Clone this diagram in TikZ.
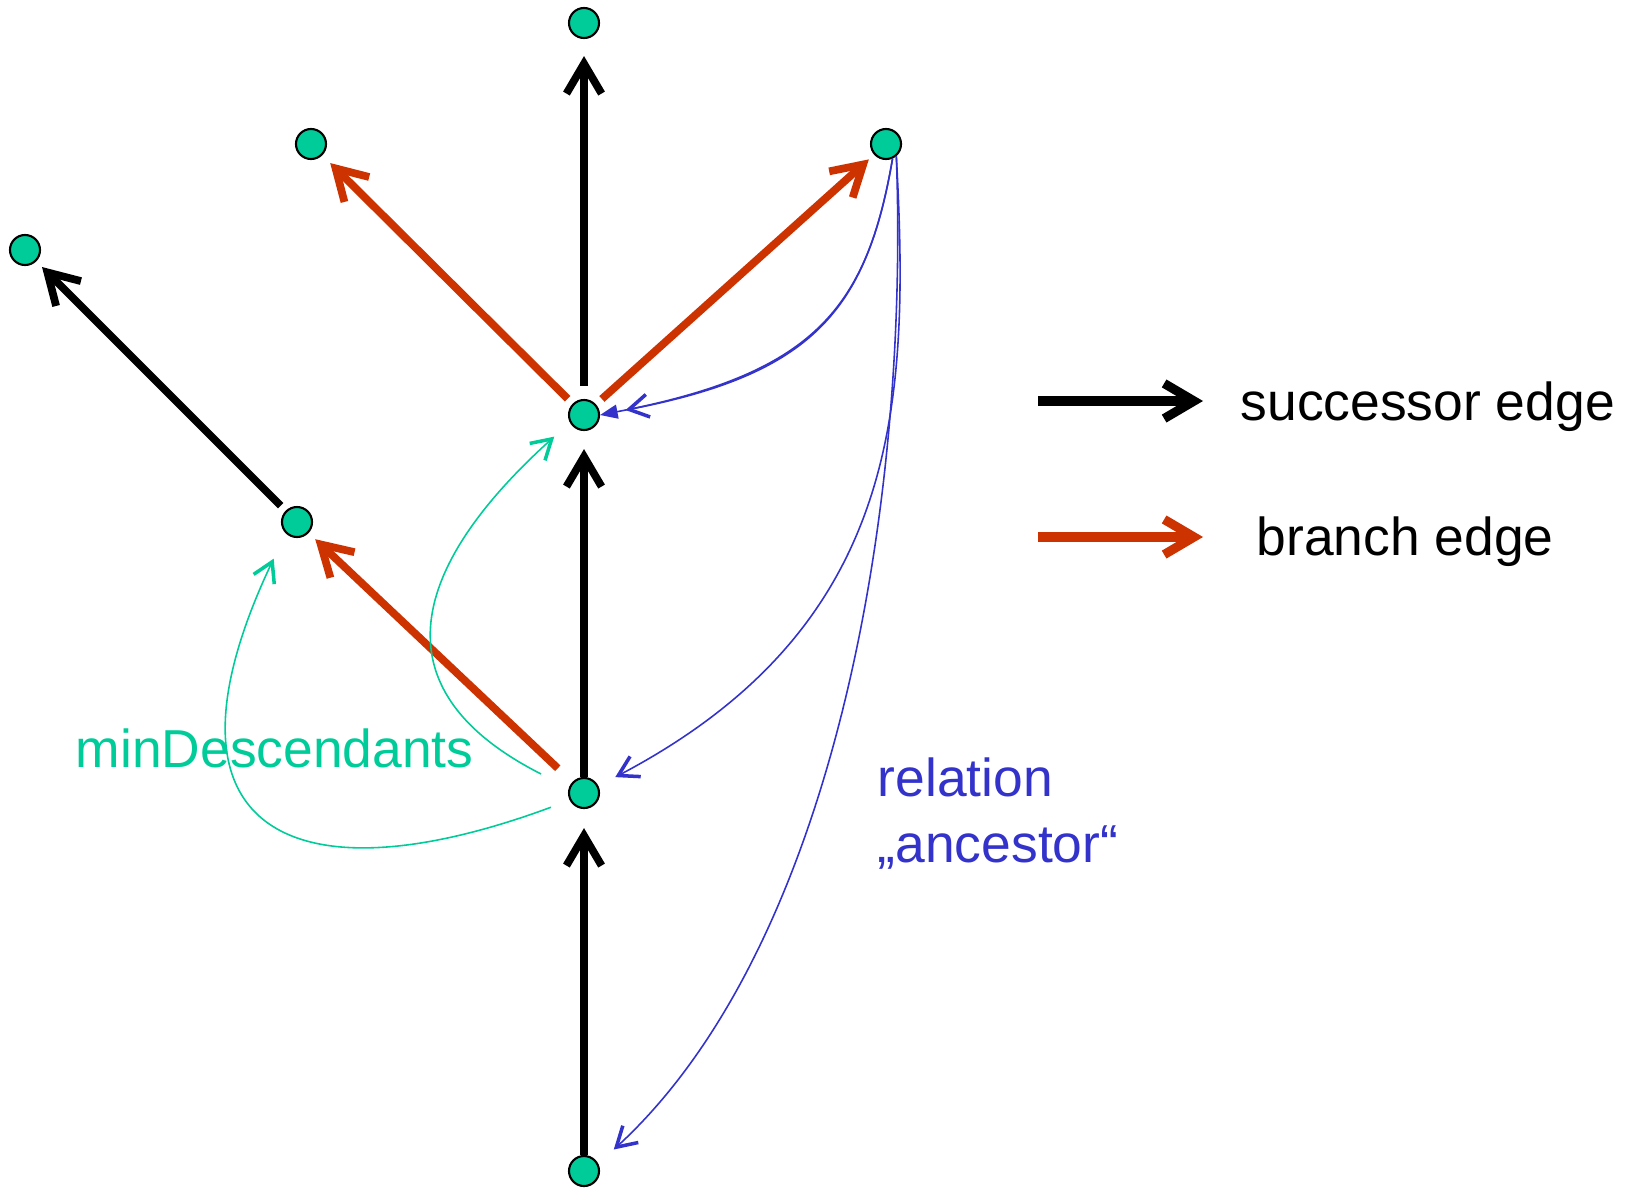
\documentclass[tikz,border=0pt]{standalone}
\usepackage{fontspec}
\setmainfont{Liberation Sans}
\usepackage{tikz}
\usetikzlibrary{arrows.meta}
\definecolor{vertexgreen}{HTML}{00CC99}
\definecolor{branchred}{HTML}{CC3300}
\definecolor{ancestorblue}{HTML}{3333CC}

\begin{document}
\begin{tikzpicture}[
    vertex/.style={circle, draw=black, line width=0.6pt, fill=vertexgreen, minimum size=0.3cm, inner sep=0pt},
    successor/.style={-{Straight Barb[length=8.5pt, width=10pt, sharp]}, line width=2.2pt},
    branch/.style={successor, branchred},
    ancestor/.style={-{Straight Barb[length=5.5pt, width=6.5pt, line width=1pt, sharp]}, ancestorblue, line width=0.45pt},
    mindesc/.style={ancestor, vertexgreen},
    txt/.style={font=\fontsize{15.2}{18.5}\selectfont, inner sep=0pt}
]
\useasboundingbox (0,0) rectangle (16.32,11.88);

% Vertices of the tree
\node[vertex] (bot) at (5.84, 0.17) {};
\node[vertex] (low) at (5.84, 3.95) {};
\node[vertex] (mid) at (5.84, 7.73) {};
\node[vertex] (top) at (5.84, 11.65) {};
\node[vertex] (left) at (2.97, 6.66) {};
\node[vertex] (farleft) at (0.25, 9.38) {};
\node[vertex] (upleft) at (3.11, 10.44) {};
\node[vertex] (upright) at (8.86, 10.44) {};

% Successor and branch edges
\draw[successor, shorten >=0.19cm] (bot) -- (low);
\draw[successor, shorten >=0.18cm] (low) -- (mid);
\draw[successor, shorten <=0.13cm, shorten >=0.17cm] (mid) -- (top);
\draw[successor, shorten <=0.07cm, shorten >=0.08cm] (left) -- (farleft);
\draw[branch, shorten <=0.2cm, shorten >=0.09cm] (low) -- (left);
\draw[branch, shorten <=0.07cm, shorten >=0.11cm] (mid) -- (upleft);
\draw[branch, shorten <=0.08cm, shorten >=0.07cm] (mid) -- (upright);

% Relation "ancestor"
\draw[ancestor, shorten >=0.26cm] (upright.-66) .. controls +(-0.26,-1.52) and +(2.12,0.41) .. (mid.east);
\draw[ancestorblue, line width=0.45pt, -{Triangle[length=5pt, width=4pt]}] (upright.-66) .. controls +(-0.26,-1.52) and +(2.12,0.41) .. (mid.east);
\draw[ancestor, shorten >=0.19cm] (upright.-50) .. controls +(0.14,-2.54) and +(3.00,1.58) .. (low.26);
\draw[ancestor, shorten >=0.21cm] (upright.-50) .. controls +(0.13,-3.54) and +(2.35,2.16) .. (bot.27);

% minDescendants
\draw[mindesc, shorten <=0.31cm, shorten >=0.21cm] (low.162) .. controls +(-1.97,1.00) and +(-1.56,-1.41) .. (mid.208);
\draw[mindesc, shorten <=0.20cm, shorten >=0.28cm] (low.207) .. controls +(-2.81,-1.04) and +(-1.40,-2.96) .. (left.225);

% Labels
\node[txt, text=vertexgreen, anchor=base west] (mindesclabel) at (0.75, 4.21) {minDescendants};
\node[txt, text=ancestorblue, anchor=base west, align=left] (relationlabel) at (8.77, 3.26) {relation\\„ancestor“};

% Legend
\coordinate (succfrom) at (10.38, 7.87);
\coordinate (succto) at (12.03, 7.87);
\node[txt, anchor=base west] (succlabel) at (12.40, 7.68) {successor edge};
\draw[successor, line width=2.6pt] (succfrom) -- (succto);
\coordinate (branchfrom) at (10.38, 6.51);
\coordinate (branchto) at (12.03, 6.51);
\node[txt, anchor=base west] (branchlabel) at (12.56, 6.33) {branch edge};
\draw[branch, line width=2.6pt] (branchfrom) -- (branchto);

\end{tikzpicture}
\end{document}
